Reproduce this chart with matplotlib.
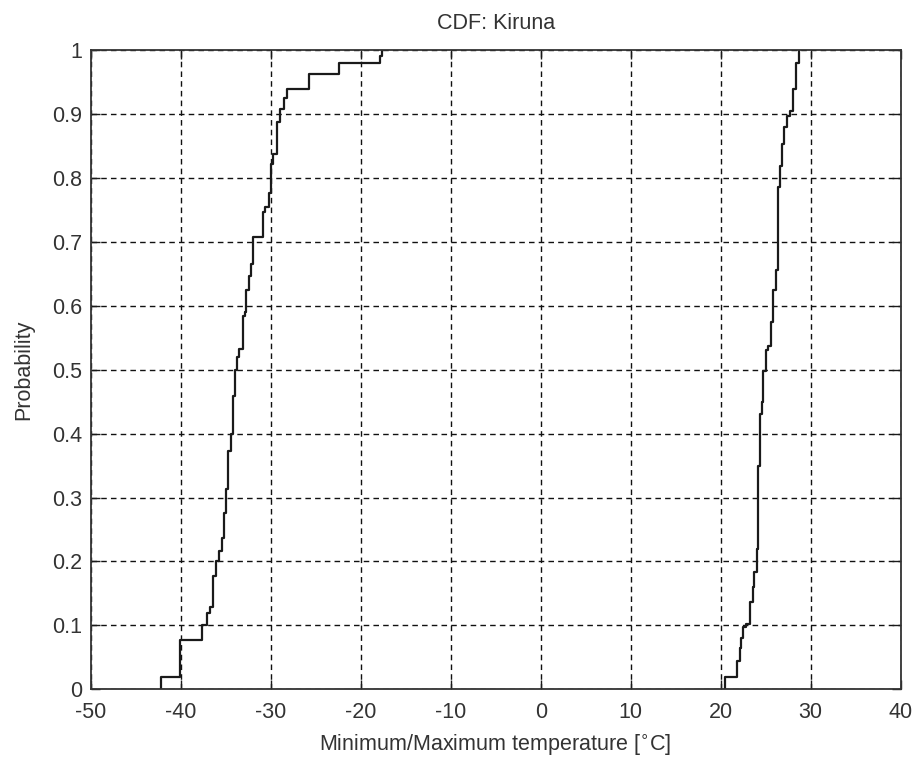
import matplotlib
matplotlib.use("Agg")
import matplotlib.pyplot as plt
import numpy as np

# Step positions (temperature, deg C) and probability after each step
min_temp = [-42.2, -40.1, -37.6, -37.1, -36.7, -36.4, -36.1, -35.8, -35.4, -35.2,
            -35.0, -34.7, -34.4, -34.2, -34.0, -33.8, -33.5, -33.1, -32.9, -32.7,
            -32.4, -32.2, -32.0, -30.9, -30.6, -30.2, -30.0, -29.7, -29.3, -29.0,
            -28.5, -28.2, -25.7, -22.4, -17.9, -17.6]
min_prob = [0.02, 0.077, 0.10, 0.119, 0.128, 0.178, 0.20, 0.216, 0.236, 0.275,
            0.314, 0.373, 0.40, 0.459, 0.50, 0.52, 0.533, 0.584, 0.59, 0.625,
            0.647, 0.666, 0.708, 0.746, 0.754, 0.776, 0.821, 0.838, 0.887, 0.907,
            0.925, 0.939, 0.962, 0.98, 0.99, 1.0]

max_temp = [20.5, 21.8, 22.1, 22.3, 22.5, 22.8, 23.3, 23.6, 23.7, 24.0,
            24.2, 24.4, 24.6, 24.7, 25.0, 25.3, 25.6, 25.8, 26.1, 26.35,
            26.6, 26.8, 27.0, 27.4, 27.7, 28.0, 28.4, 28.7]
max_prob = [0.02, 0.045, 0.064, 0.08, 0.097, 0.102, 0.136, 0.16, 0.183, 0.22,
            0.35, 0.43, 0.45, 0.498, 0.53, 0.537, 0.574, 0.625, 0.656, 0.785,
            0.819, 0.853, 0.88, 0.897, 0.905, 0.939, 0.98, 1.0]

x_ticks = [-50, -40, -30, -20, -10, 0, 10, 20, 30, 40]
y_ticks = [0, 0.1, 0.2, 0.3, 0.4, 0.5, 0.6, 0.7, 0.8, 0.9, 1]
y_ticklabels = ["0", "0.1", "0.2", "0.3", "0.4", "0.5", "0.6", "0.7", "0.8", "0.9", "1"]

plt.rcParams['font.family'] = ['Liberation Sans', 'DejaVu Sans']

W, H = 918, 767
fig = plt.figure(figsize=(W / 100, H / 100), dpi=100)
ax = fig.add_axes([90.7 / W, (H - 689.3) / H, (900.7 - 90.7) / W, (689.3 - 50) / H])

lc = '#1a1a1a'
tc = '#333333'
fs = 15.5
for temps, probs in [(min_temp, min_prob), (max_temp, max_prob)]:
    xs = [temps[0]] + list(temps)
    ys = [0.0] + list(probs)
    ax.step(xs, ys, where='post', color=lc, lw=1.6)

ax.set_xlim(-50, 40)
ax.set_ylim(0, 1)
ax.set_xticks(x_ticks)
ax.set_xticklabels([str(t) for t in x_ticks])
ax.set_yticks(y_ticks)
ax.set_yticklabels(y_ticklabels)

ax.grid(True, color='#111111', linestyle=(0, (4, 3)), lw=1.0)
ax.tick_params(direction='in', length=6.5, width=1, top=True, right=True,
               labelsize=fs, colors=lc, labelcolor=tc)
ax.tick_params(axis='x', pad=9)
ax.tick_params(axis='y', pad=6)
for s in ax.spines.values():
    s.set_color('#333333')
    s.set_linewidth(1.3)

ax.set_title('CDF: Kiruna', fontsize=fs, color=tc, pad=15)
ax.set_xlabel('Minimum/Maximum temperature [$^{\\circ}$C]', fontsize=fs, color=tc, labelpad=7)
ax.set_ylabel('Probability', fontsize=fs, color=tc, labelpad=13)

fig.savefig('out.png', dpi=100)
